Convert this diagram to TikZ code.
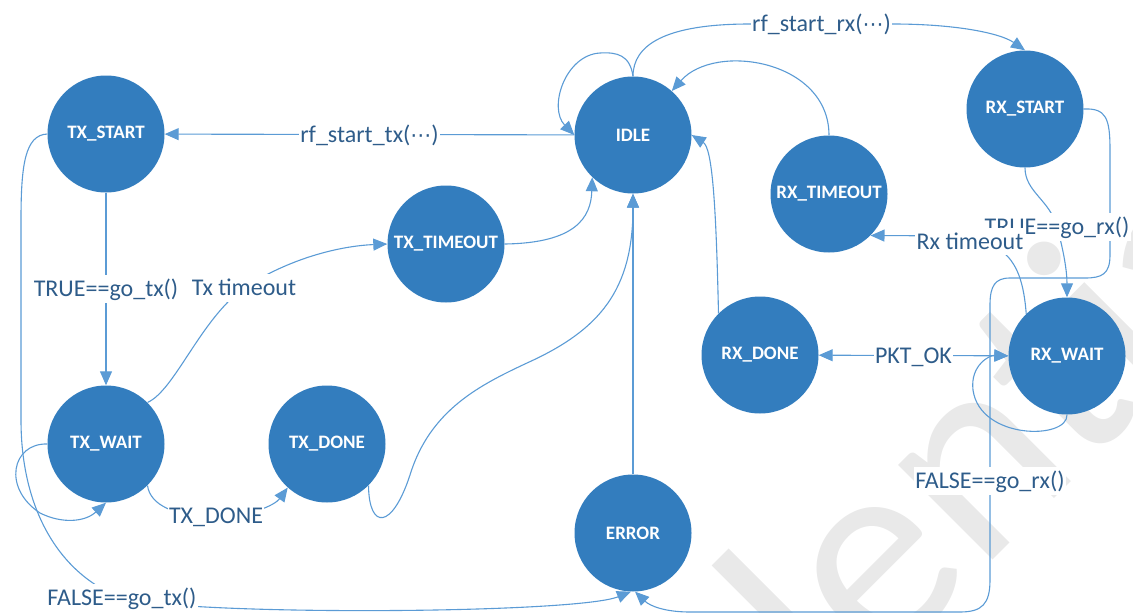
\documentclass[tikz,border=0pt]{standalone}
\usepackage{fontspec}
\setmainfont{Carlito}
\newfontfamily\symfont{DejaVu Sans}
\usetikzlibrary{arrows.meta}
\definecolor{stateblue}{HTML}{337DBE}
\definecolor{edgeblue}{HTML}{5B9BD5}
\definecolor{labelblue}{HTML}{2E5C8A}
\definecolor{wmgray}{HTML}{E9E9E9}
\newcommand{\midellipsis}{{\symfont\fontsize{21}{21}\selectfont ⋯}}

\begin{document}
\begin{tikzpicture}[x=1pt,y=-1pt,
  stnode/.style={circle,fill=stateblue,draw=none,minimum size=117pt,inner sep=0pt,
    text=white,font=\bfseries\fontsize{19}{19}\selectfont},
  link/.style={draw=edgeblue,line width=1.1pt,-{Triangle[length=14pt,width=12pt]}},
  lbl/.style={fill=white,text=labelblue,inner xsep=1.5pt,inner ysep=2.5pt,
    text height=19pt,text depth=3.5pt,font=\fontsize{24}{24}\selectfont},
]
\useasboundingbox (0,0) rectangle (1133,613);

% faint watermark behind the diagram
\begin{scope}
  \clip (0,0) rectangle (1133,613);
  \node[anchor=base west,rotate=45,text=wmgray,inner sep=0pt,
        font=\fontsize{280}{280}\selectfont] (wm) at (359,1194) {Confidential};
\end{scope}

% states
\node[stnode] (TXS)  at (106,134) {TX\_START};
\node[stnode] (IDLE) at (633,135) {IDLE};
\node[stnode] (RXS)  at (1025,109) {RX\_START};
\node[stnode] (TXT)  at (446,244) {TX\_TIMEOUT};
\node[stnode] (RXT)  at (829,194) {RX\_TIMEOUT};
\node[stnode] (TXW)  at (106,444) {TX\_WAIT};
\node[stnode] (TXD)  at (327,444) {TX\_DONE};
\node[stnode] (RXD)  at (760,355) {RX\_DONE};
\node[stnode] (RXW)  at (1067,356) {RX\_WAIT};
\node[stnode] (ERR)  at (633,533) {ERROR};

% transitions out of IDLE
\draw[link] (IDLE) -- node[lbl]{rf\_start\_tx(\midellipsis)} (TXS);
\draw[link] (IDLE.north) .. controls (633,45) and (665,24) .. (750,24)
  -- node[lbl]{rf\_start\_rx(\midellipsis)} (893,24)
  .. controls (955,24) and (1000,33) .. (RXS.north);
\draw[link] (IDLE.north) .. controls (630,55) and (617,52) .. (600,53)
  .. controls (565,55) and (548,108) .. (IDLE.west);

% transitions back into IDLE
\draw[link] (RXT.north) .. controls (829,60) and (715,42) .. (IDLE);
\draw[link] (ERR) -- (IDLE);
\draw[link] (TXT.east) .. controls (575,243) and (591,218) .. (IDLE.226);
\draw[link] (TXD.315) .. controls (369,530) and (392,530) .. (410,475)
  .. controls (430,410) and (480,385) .. (527,363)
  .. controls (600,330) and (633,290) .. (IDLE.south);
\draw[link] (RXD.135) .. controls (716,200) and (712,148) .. (IDLE.east);

% transmit side
\draw[link] (TXS) -- node[lbl]{TRUE==go\_tx()} (TXW);
\draw[link] (TXW.45) .. controls (175,390) and (200,320) .. (244,288)
  node[lbl]{Tx timeout}
  .. controls (290,258) and (340,246) .. (TXT.west);
\draw[link] (TXW.-45) .. controls (150,505) and (175,517) .. (216,516)
  node[lbl]{TX\_DONE}
  .. controls (250,517) and (275,505) .. (TXD.228);
\draw[link] (TXW.west) .. controls (12,443) and (2,488) .. (40,513)
  .. controls (62,524) and (85,522) .. (TXW.south);
\draw[link] (TXS.west) .. controls (25,135) and (21,165) .. (21,220) -- (21,420)
  .. controls (21,510) and (60,575) .. (122,598)
  node[lbl]{FALSE==go\_tx()}
  .. controls (190,616) and (575,614) .. (ERR.268);

% receive side
\draw[link] (RXS.east) .. controls (1106,108) and (1110,118) .. (1110,150) -- (1110,255)
  .. controls (1110,274) and (1102,278) .. (1085,278) -- (1010,278)
  .. controls (995,278) and (990,286) .. (990,305) -- (990,481)
  node[lbl]{FALSE==go\_rx()} -- (990,580)
  .. controls (990,604) and (982,612) .. (960,612) -- (690,612)
  .. controls (665,612) and (650,606) .. (ERR.272);
\draw[link] (RXS.south) .. controls (1025,192) and (1050,200) .. (1057,227)
  node[lbl]{TRUE==go\_rx()}
  .. controls (1064,252) and (1067,272) .. (RXW.north);
\draw[link] (RXW.134) .. controls (1024,285) and (1018,262) .. (1000,250) -- (970,236)
  node[lbl,yshift=-5.5pt]{Rx timeout} -- (RXT.-45);
\draw[link,{Triangle[length=14pt,width=12pt]}-{Triangle[length=14pt,width=12pt]}]
  (RXD) -- node[lbl]{PKT\_OK} (RXW);
\draw[link] (RXW.south) .. controls (1068,440) and (980,440) .. (973,390)
  .. controls (970,365) and (990,355) .. (RXW.west);
\end{tikzpicture}
\end{document}
